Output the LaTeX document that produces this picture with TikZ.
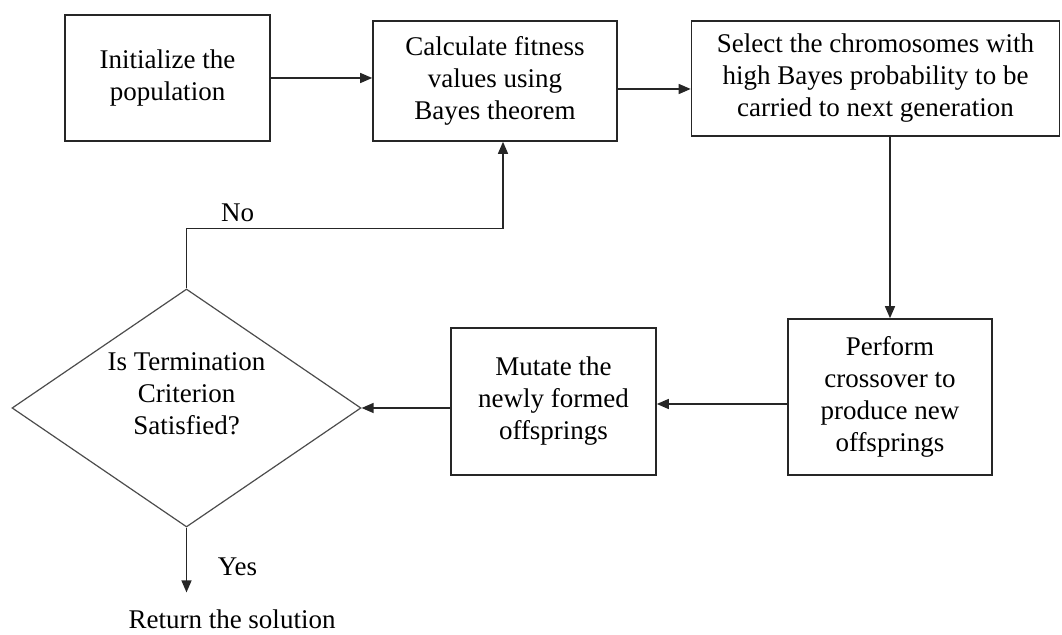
\documentclass[tikz,border=0pt]{standalone}
\usepackage{fontspec}
\setmainfont{Liberation Serif}
\usetikzlibrary{shapes.geometric,arrows.meta}

\begin{document}
\begin{tikzpicture}[
        x = 0.5pt, y = -0.5pt,
        every node/.style={
          font = \fontsize{13.5}{16}\selectfont,
          align = center,
        },
        process/.style={
          draw = black!85, line width = 0.8pt, inner sep = 0pt,
        },
        decision/.style={
          draw = black!70, diamond, line width = 0.6pt, inner sep = 0pt,
        },
        flow/.style={
          draw = black!85, line width = 0.7pt,
          -{Triangle[length = 6pt, width = 5pt]},
        },
        ]
  \useasboundingbox (0,0) rectangle (1062,635);
  % top row
  \node [process, minimum width = 102.5pt, minimum height = 63pt]
    (init) at (167.5,78) {Initialize the\\population};
  \node [process, minimum width = 122pt, minimum height = 60pt]
    (fitness) at (495,81) {Calculate fitness\\values using\\Bayes theorem};
  \node [process, minimum width = 184pt, minimum height = 57.5pt]
    (selection) at (875.5,78.5) {Select the chromosomes with\\high Bayes probability to be\\carried to next generation};
  % bottom row
  \node [process, minimum width = 102pt, minimum height = 78pt]
    (crossover) at (890,397) {Perform\\crossover to\\produce new\\offsprings};
  \node [process, minimum width = 102.5pt, minimum height = 73.5pt]
    (mutate) at (553.5,401.5) {Mutate the\\newly formed\\offsprings};
  \node [decision, minimum width = 174.5pt, minimum height = 119pt]
    (check) at (186.5,408) {};
  \node (checktext) at ([yshift=7pt]check.center) {Is Termination\\Criterion\\Satisfied?};
  \node (result) at (232,619) {Return the solution};
  \coordinate (nohit) at ([xshift=4pt]fitness.south);

  \draw [flow] (init.east) -- (init.east -| fitness.west);
  \draw [flow] ([yshift=-4pt]fitness.east) -- ([yshift=-4pt]fitness.east -| selection.west);
  \draw [flow] (crossover.north |- selection.south) -- (crossover.north);
  \draw [flow] ([yshift=-3.5pt]crossover.west) -- ([yshift=-3.5pt]crossover.west -| mutate.east);
  \draw [flow] (mutate.west |- check.east) -- (check.east);
  \draw [flow] (check.north) -- ++(0,-60) coordinate (nobend)
    node [pos=1, above right, xshift=14pt, inner sep=3pt] {No}
    -- (nobend -| nohit) -- (nohit);
  \draw [flow] (check.south) -- ([yshift=5pt]check.south |- result.north)
    node [pos=0.6, right, xshift=12pt] {Yes};
\end{tikzpicture}
\end{document}
